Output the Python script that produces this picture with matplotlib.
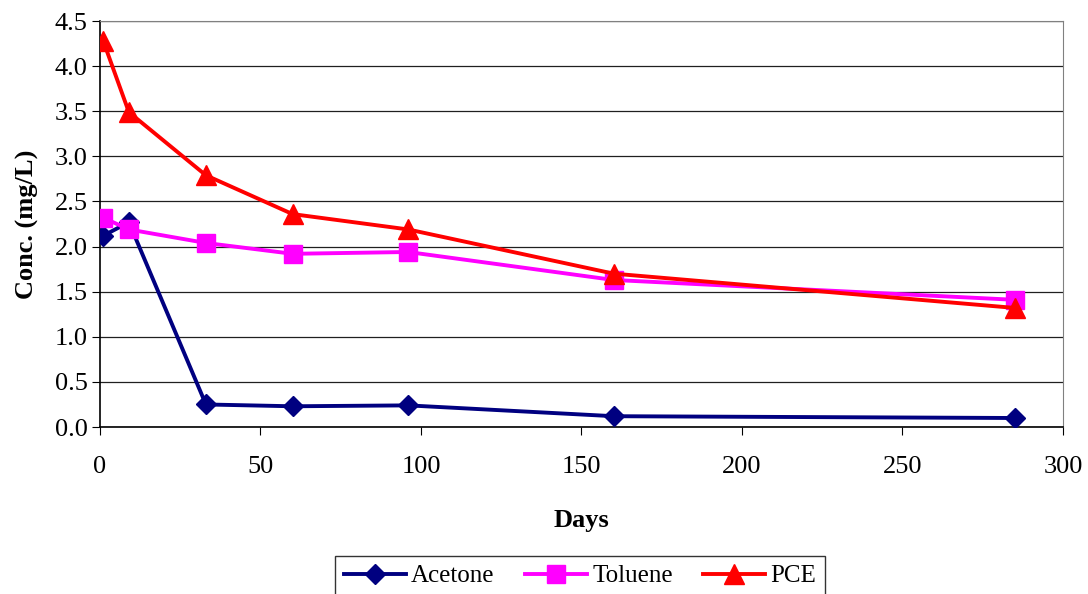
import matplotlib.pyplot as plt

# sampling days and measured concentrations (mg/L)
days = [1, 9, 33, 60, 96, 160, 285]
acetone = [2.12, 2.27, 0.25, 0.23, 0.24, 0.12, 0.10]
toluene = [2.32, 2.19, 2.04, 1.92, 1.94, 1.63, 1.41]
pce = [4.28, 3.49, 2.79, 2.36, 2.19, 1.70, 1.32]

plt.rcParams['font.family'] = ['Liberation Serif', 'DejaVu Serif']

fig = plt.figure(figsize=(10.88, 5.94), dpi=100)
ax = fig.add_axes([0.0919, 0.2811, 0.8851, 0.6835])

ax.plot(days, acetone, color='#000080', lw=2.8, marker='D', ms=10, label='Acetone', zorder=3)
ax.plot(days, toluene, color='#FF00FF', lw=2.8, marker='s', ms=13, label='Toluene', zorder=4)
ax.plot(days, pce, color='#FF0000', lw=2.8, marker='^', ms=14, label='PCE', zorder=5)

ax.set_xlim(0, 300)
ax.set_ylim(0, 4.5)
ax.set_xticks(range(0, 301, 50))
ax.set_yticks([i * 0.5 for i in range(10)])
ax.set_yticklabels([f'{i * 0.5:.1f}' for i in range(10)])
ax.tick_params(labelsize=19, direction='out', length=6, color='black')
ax.tick_params(axis='y', pad=3)
ax.tick_params(axis='x', pad=15)
ax.yaxis.grid(True, color='#202020', lw=0.9)
ax.set_axisbelow(True)

for side in ['top', 'right']:
    ax.spines[side].set_color('#808080')
ax.spines['left'].set_linewidth(1.2)
ax.spines['bottom'].set_linewidth(1.2)

ax.set_xlabel('Days', fontsize=19, fontweight='bold', labelpad=22)
ax.set_ylabel('Conc. (mg/L)', fontsize=19, fontweight='bold', labelpad=11)

leg = fig.legend(loc='lower center', bbox_to_anchor=(0.533, -0.012), ncol=3,
                 fontsize=18, frameon=True, fancybox=False, edgecolor='black',
                 handlelength=2.5, handletextpad=0.2, columnspacing=1.2,
                 borderpad=0.35, borderaxespad=0.2)
leg.get_frame().set_linewidth(1.0)

fig.savefig('out.png', dpi=100)
